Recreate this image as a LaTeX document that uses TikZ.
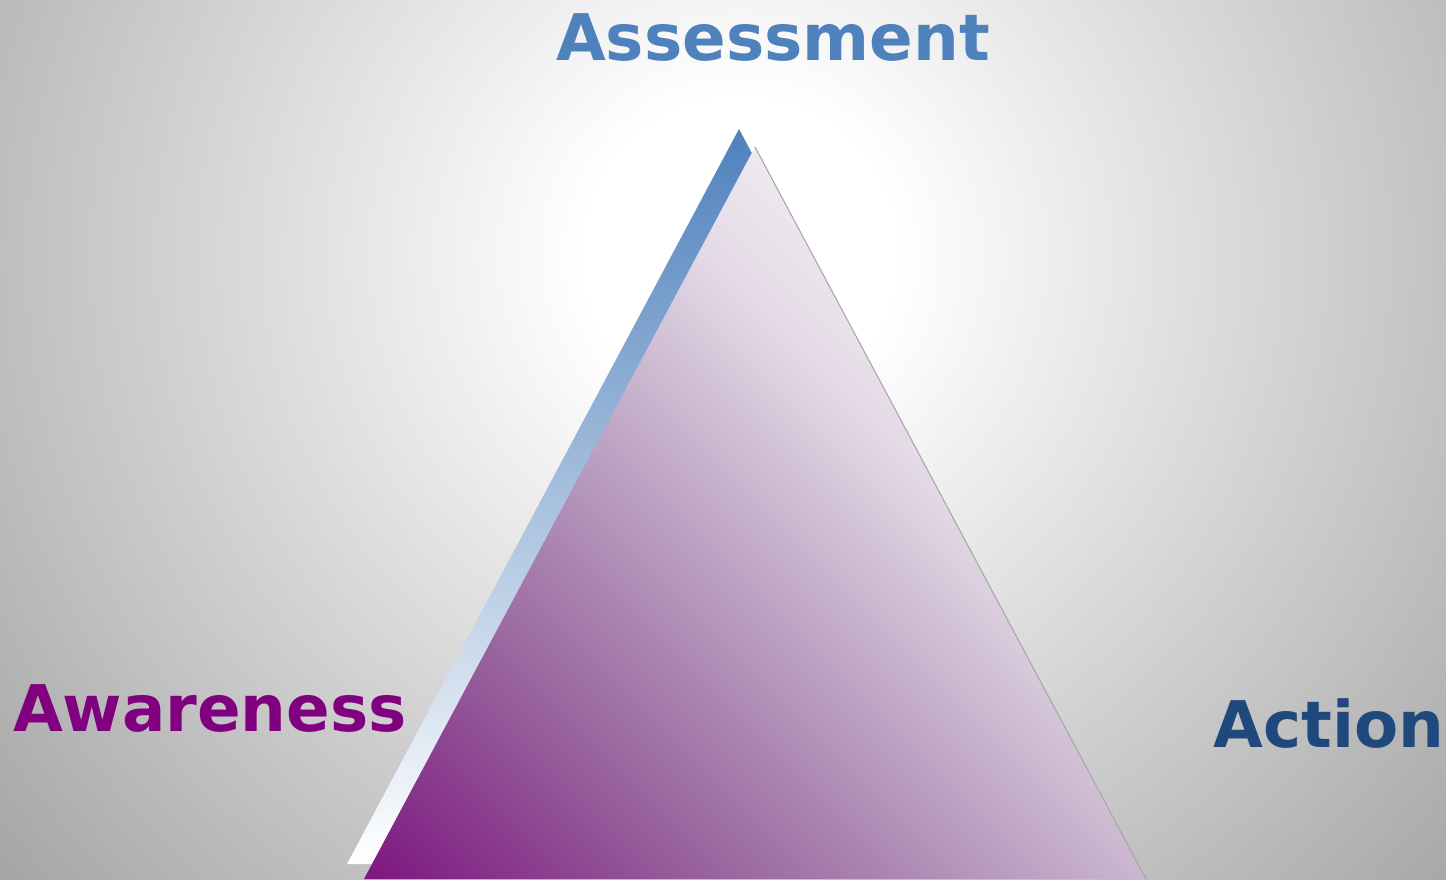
\documentclass[tikz,border=0pt]{standalone}
\usepackage{fontspec}
\usepackage{tikz}
\newfontfamily\headfont{DejaVu Sans}
\definecolor{assessblue}{RGB}{79,129,189}
\definecolor{awarepurple}{RGB}{128,0,128}
\definecolor{actionblue}{RGB}{31,73,125}
\definecolor{bggray}{RGB}{165,165,165}
\definecolor{pyrA}{RGB}{125,22,128}
\definecolor{pyrB}{RGB}{150,95,155}
\definecolor{pyrC}{RGB}{185,158,192}
\definecolor{pyrD}{RGB}{228,218,230}
\definecolor{pyrE}{RGB}{242,238,243}
\definecolor{pyrF}{RGB}{248,246,248}
\usetikzlibrary{positioning,calc,shadings}
\pgfdeclareradialshading{glow}{\pgfpoint{0bp}{0bp}}{color(0bp)=(white); color(4bp)=(white); color(25bp)=(bggray); color(50bp)=(bggray)}
\pgfdeclarehorizontalshading{pyrfade}{100bp}{color(0bp)=(pyrA); color(14.6bp)=(pyrA); color(30bp)=(pyrB); color(45bp)=(pyrC); color(60bp)=(pyrD); color(70bp)=(pyrE); color(85.4bp)=(pyrF); color(100bp)=(pyrF)}
\tikzstyle{heading}=[anchor=base, font=\headfont\bfseries\fontsize{18.3}{22}\selectfont]
\tikzstyle{backtri}=[top color=assessblue, bottom color=white]
\tikzstyle{fronttri}=[shading=pyrfade, shading angle=45]

\begin{document}
\begin{tikzpicture}
\useasboundingbox (0,0) rectangle (14.46,8.79);
% background glow
\begin{scope}
\clip (0,0) rectangle (14.46,8.79);
\shade[shading=glow] (7.4,6.25) circle (9.7);
\end{scope}
% pyramid
\coordinate (backtop) at (7.39,7.50);
\coordinate (backleft) at (3.47,0.15);
\coordinate (backright) at (11.31,0.15);
\coordinate (top) at (7.55,7.32);
\coordinate (left) at (3.64,0);
\coordinate (right) at (11.46,0);
\shade[backtri] (backtop)--(backleft)--(backright)--cycle;
\shade[fronttri] (top)--(left)--(right)--cycle;
\draw[gray!70, line width=0.3pt] (top)--(right);
% labels
\node (assess) [heading, text=assessblue] at (7.73,8.19) {Assessment};
\node (aware) [heading, text=awarepurple] at (2.10,1.48) {Awareness};
\node (action) [heading, text=actionblue] at (13.29,1.32) {Action};
\end{tikzpicture}
\end{document}
